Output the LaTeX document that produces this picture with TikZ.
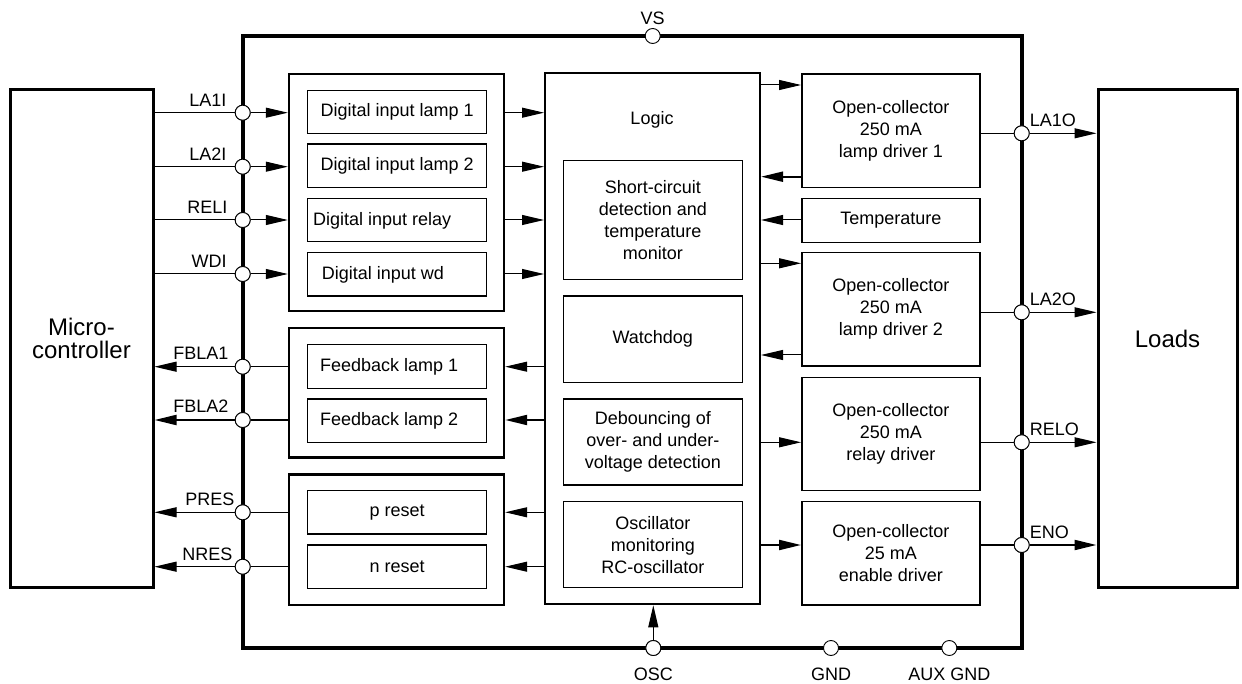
\documentclass[tikz,border=0pt]{standalone}
\usepackage{fontspec}
\setmainfont{Liberation Sans}
\usetikzlibrary{arrows.meta}
\begin{document}
\begin{tikzpicture}[x=1pt,y=-1pt,
  every node/.style={font=\fontsize{18}{22}\selectfont},
  box/.style={draw, line width=1.3pt, inner sep=0pt, align=center, minimum width=179pt},
  drv/.style={draw, line width=1.5pt, inner sep=0pt, align=center, minimum width=178pt},
  grp/.style={draw, line width=2.4pt, inner sep=0pt, minimum width=215pt},
  ext/.style={draw, line width=3pt, inner sep=0pt, align=center, font=\fontsize{24}{23.5}\selectfont},
  pin/.style={circle, draw, fill=white, minimum size=15pt, inner sep=0pt, line width=0.9pt},
  sig/.style={line width=1pt},
  tsig/.style={line width=2pt},
  arr/.style={-{Triangle[length=22pt,width=10pt]}, line width=1pt},
  tarr/.style={arr, line width=2pt},
  lbl/.style={inner sep=0pt}
]
\useasboundingbox (0,0) rectangle (1242,684);

% external boxes
\node[ext, minimum width=143pt, minimum height=497pt] (mc) at (81.5,338.5) {Micro-\\controller};
\node[ext, minimum width=139pt, minimum height=497pt] (loads) at (1167.5,338.5) {Loads};

% chip
\node[draw, line width=4pt, inner sep=0pt, minimum width=779pt, minimum height=612pt] (chip) at (632.2,342) {};

% groups
\node[grp, minimum height=237pt] (ig) at (396.5,192.5) {};
\node[grp, minimum height=129pt] (fg) at (396.5,392.8) {};
\node[grp, minimum height=130.7pt] (rg) at (396.5,539.7) {};

\node[box, minimum height=42.6pt] (di1) at (397.2,112) {Digital input lamp 1};
\node[box, minimum height=43.3pt] (di2) at (397.2,165.7) {Digital input lamp 2};
\node[box, minimum height=43.4pt] (di3) at (397.2,220) {};
\node[lbl, anchor=west] (di3t) at (313,221) {Digital input relay};
\node[box, minimum height=43.3pt] (di4) at (397.2,274.3) {};
\node[lbl, anchor=west] (di4t) at (321.7,275) {Digital input wd};
\node[box, minimum height=44pt] (fb1) at (397.2,366.3) {};
\node[lbl, anchor=west] (fb1t) at (320,367) {Feedback lamp 1};
\node[box, minimum height=43.3pt] (fb2) at (397.2,420.7) {};
\node[lbl, anchor=west] (fb2t) at (320,421) {Feedback lamp 2};
\node[box, minimum height=43.3pt] (pr) at (397.2,512.3) {p reset};
\node[box, minimum height=43.3pt] (nr) at (397.2,566.7) {n reset};

% logic
\node[draw, line width=2pt, inner sep=0pt, minimum width=215pt, minimum height=531pt] (logic) at (652.5,338.8) {};
\node[lbl] (logict) at (652,120) {Logic};
\node[box, minimum height=118.6pt] (sc) at (652.8,220) {Short-circuit\\detection and\\temperature\\monitor};
\node[box, minimum height=86.3pt] (wd) at (652.8,339.2) {Watchdog};
\node[box, minimum height=86pt] (db) at (652.8,442) {Debouncing of\\over- and under-\\voltage detection};
\node[box, minimum height=86pt] (os) at (652.8,544.7) {Oscillator\\monitoring\\RC-oscillator};

% drivers
\node[drv, minimum height=113.7pt] (ld1) at (890.8,130.8) {Open-collector\\250 mA\\lamp driver 1};
\node[drv, minimum height=44pt] (temp) at (890.8,220.3) {Temperature};
\node[drv, minimum height=113.3pt] (ld2) at (890.8,309.3) {Open-collector\\250 mA\\lamp driver 2};
\node[drv, minimum height=113.4pt] (rd) at (890.8,434) {Open-collector\\250 mA\\relay driver};
\node[drv, minimum height=103.3pt] (ed) at (890.8,553.3) {Open-collector\\25 mA\\enable driver};

% row coordinates
\coordinate (r1) at (0,85);
\coordinate (r2) at (0,176.7);
\coordinate (r3) at (0,220);
\coordinate (r4) at (0,263.3);
\coordinate (r5) at (0,355);
\coordinate (r6) at (0,442.3);
\coordinate (r7) at (0,545);

% logic <-> drivers
\draw[arr] (logic.east |- r1) -- (ld1.west |- r1);
\draw[tarr] (ld1.west |- r2) -- (logic.east |- r2);
\draw[arr] (temp.west |- r3) -- (logic.east |- r3);
\draw[arr] (logic.east |- r4) -- (ld2.west |- r4);
\draw[arr] (ld2.west |- r5) -- (logic.east |- r5);
\draw[arr] (logic.east |- r6) -- (rd.west |- r6);
\draw[tarr] (logic.east |- r7) -- (ed.west |- r7);

% left pins
\foreach \n/\y in {la1i/112.7, la2i/166.7, reli/220, wdi/274, fbla1/366.7, fbla2/420, pres/512.3, nres/566.7}
  \node[pin] (\n) at (242.7,\y) {};

% inputs
\foreach \n in {la1i, la2i, reli, wdi} {
  \draw[sig] (mc.east |- \n) -- (\n);
  \draw[arr] (\n) -- (ig.west |- \n);
  \draw[arr] (ig.east |- \n) -- (logic.west |- \n);
}
% feedback
\draw[sig] (fg.west |- fbla1) -- (fbla1);
\draw[arr] (fbla1) -- (mc.east |- fbla1);
\draw[arr] (logic.west |- fbla1) -- (fg.east |- fbla1);
\draw[tsig] (fg.west |- fbla2) -- (fbla2);
\draw[tarr] (fbla2) -- (mc.east |- fbla2);
\draw[tarr] (logic.west |- fbla2) -- (fg.east |- fbla2);
% resets
\foreach \n in {pres, nres} {
  \draw[sig] (rg.west |- \n) -- (\n);
  \draw[arr] (\n) -- (mc.east |- \n);
  \draw[arr] (logic.west |- \n) -- (rg.east |- \n);
}
\foreach \n in {la1i, la2i, reli, wdi, fbla1, fbla2, pres, nres}
  \node[pin] at (\n) {};

\node[lbl, anchor=base east] at ([xshift=-16pt,yshift=6.5pt]la1i.center) {LA1I};
\node[lbl, anchor=base east] at ([xshift=-16pt,yshift=6.5pt]la2i.center) {LA2I};
\node[lbl, anchor=base east] at ([xshift=-15pt,yshift=6.5pt]reli.center) {RELI};
\node[lbl, anchor=base east] at ([xshift=-16pt,yshift=6.5pt]wdi.center) {WDI};
\node[lbl, anchor=base east] at ([xshift=-14pt,yshift=7.5pt]fbla1.center) {FBLA1};
\node[lbl, anchor=base east] at ([xshift=-14pt,yshift=7.5pt]fbla2.center) {FBLA2};
\node[lbl, anchor=base east] at ([xshift=-8pt,yshift=6.5pt]pres.center) {PRES};
\node[lbl, anchor=base east] at ([xshift=-10pt,yshift=6.5pt]nres.center) {NRES};

% right pins
\node[pin] (la1o) at (1021.7,133.3) {};
\node[pin] (la2o) at (1021.7,312.3) {};
\node[pin] (relo) at (1021.7,442.3) {};
\node[pin] (eno) at (1021.7,545) {};
\draw[sig] (ld1.east |- la1o) -- (la1o);
\draw[arr] (la1o) -- (loads.west |- la1o);
\draw[sig] (ld2.east |- la2o) -- (la2o);
\draw[arr] (la2o) -- (loads.west |- la2o);
\draw[sig] (rd.east |- relo) -- (relo);
\draw[arr] (relo) -- (loads.west |- relo);
\draw[tsig] (ed.east |- eno) -- (eno);
\draw[tarr] (eno) -- (loads.west |- eno);
\foreach \n in {la1o, la2o, relo, eno}
  \node[pin] at (\n) {};
\node[lbl, anchor=base west] at ([xshift=8pt,yshift=6.5pt]la1o.center) {LA1O};
\node[lbl, anchor=base west] at ([xshift=8pt,yshift=6.5pt]la2o.center) {LA2O};
\node[lbl, anchor=base west] at ([xshift=8pt,yshift=6.5pt]relo.center) {RELO};
\node[lbl, anchor=base west] at ([xshift=8pt,yshift=6.5pt]eno.center) {ENO};

% top/bottom pins
\node[pin] (vs) at (652.7,36) {};
\node[pin] (osc) at (653.3,648) {};
\node[pin] (gnd) at (831,648) {};
\node[pin] (auxgnd) at (949.3,648) {};
\draw[arr] (osc) -- (logic.south -| osc);
\node[pin] at (osc) {};
\node[lbl, anchor=base] at ([yshift=11pt]vs.center) {VS};
\node[lbl, anchor=base] at ([yshift=-32pt]osc.center) {OSC};
\node[lbl, anchor=base] at ([yshift=-32pt]gnd.center) {GND};
\node[lbl, anchor=base] at ([yshift=-32pt]auxgnd.center) {AUX GND};
\end{tikzpicture}
\end{document}
